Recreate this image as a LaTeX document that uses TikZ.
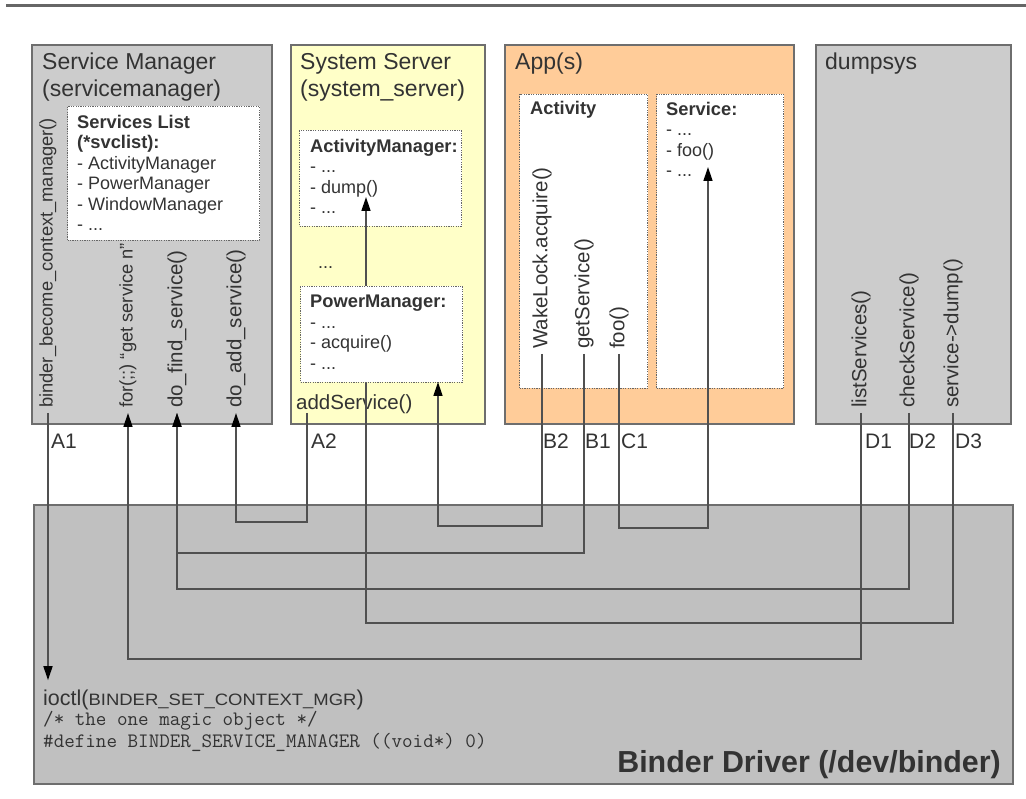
\documentclass[tikz,border=0pt]{standalone}
\usepackage{fontspec}
\setmainfont{Liberation Sans}
\newfontfamily\widesans[FakeStretch=1.12]{Liberation Sans}
\usetikzlibrary{arrows.meta,calc}
\definecolor{txt}{HTML}{333333}
\definecolor{bord}{HTML}{6E6E6E}
\definecolor{smfill}{HTML}{CCCCCC}
\definecolor{ssfill}{HTML}{FFFFC8}
\definecolor{appfill}{HTML}{FFCC99}
\definecolor{bdfill}{HTML}{C0C0C0}
\definecolor{dotc}{HTML}{666666}
\definecolor{linec}{HTML}{505050}
\definecolor{topbar}{HTML}{666666}
\newcommand\boldln[1]{{\fontsize{18.3}{20.5}\selectfont\bfseries #1}}
\begin{document}
\begin{tikzpicture}[x=1pt,y=-1pt,
  every node/.style={text=txt, inner sep=0pt},
  outerbox/.style={draw=bord, line width=1.6pt, anchor=north west},
  dotbox/.style={draw=dotc, line width=1pt, dash pattern=on 1.2pt off 1.2pt, fill=white, anchor=north west},
  conn/.style={draw=linec, line width=1.4pt},
  arr/.style={-{Triangle[length=14pt,width=9pt,color=black]}},
  vlab/.style={rotate=90, anchor=west, inner xsep=5pt, inner ysep=0pt},
  vsmall/.style={vlab, font=\fontsize{18.3}{22}\selectfont},
  vbig/.style={vlab, font=\fontsize{20.5}{24}\selectfont},
  title/.style={font=\fontsize{23}{27}\selectfont, align=left},
  listtxt/.style={anchor=north west, align=left, font=\fontsize{18}{20.5}\selectfont},
  tag/.style={anchor=base west, font=\fontsize{21}{25}\selectfont},
  codetxt/.style={anchor=base west, font=\ttfamily\fontsize{20.5}{24}\selectfont},
]
\useasboundingbox (0,0) rectangle (1026,799);
\draw[line width=3.5pt, draw=topbar] (6,5.5) -- (1026,5.5);

% outer boxes
\node[outerbox, fill=bdfill, minimum width=979pt, minimum height=279pt] (BD) at (33,504) {};
\node[outerbox, fill=smfill, minimum width=240pt, minimum height=379pt] (SM) at (31,44) {};
\node[outerbox, fill=ssfill, minimum width=194pt, minimum height=379pt] (SS) at (290,44) {};
\node[outerbox, fill=appfill, minimum width=289pt, minimum height=379pt] (APP) at (504,44) {};
\node[outerbox, fill=smfill, minimum width=195pt, minimum height=379pt] (DS) at (815,44) {};

% inner boxes
\node[dotbox, minimum width=192pt, minimum height=134pt] (SL) at (67,106) {};
\node[dotbox, minimum width=162pt, minimum height=96pt] (AM) at (299,130) {};
\node[dotbox, minimum width=128pt, minimum height=294pt] (ACT) at (519,94) {};
\node[dotbox, minimum width=127pt, minimum height=294pt] (SVC) at (656,94) {};

% titles
\node[title, anchor=north west] (SMt) at (42,53) {Service Manager\\(servicemanager)};
\node[title, anchor=north west] (SSt) at (300,53) {System Server\\(system\_server)};
\node[title, anchor=base west] (APPt) at (515,70) {App(s)};
\node[title, anchor=base west] (DSt) at (825,70) {dumpsys};

% lists
\node[listtxt] (SLt) at (77,115) {\boldln{Services List}\\\boldln{(*svclist):}\\- ActivityManager\\- PowerManager\\- WindowManager\\- ...};
\node[listtxt] (AMt) at (310,139) {\boldln{ActivityManager:}\\- ...\\- dump()\\- ...};
\node[anchor=base west, font=\fontsize{18.3}{20.5}\selectfont\bfseries] (ACTt) at (530,115) {Activity};
\node[listtxt] (SVCt) at (666,102) {\boldln{Service:}\\- ...\\- foo()\\- ...};
\node[anchor=base west, font=\fontsize{18}{22}\selectfont] (dots) at (318,269) {...};
\node[anchor=base west, font=\fontsize{20.5}{24}\selectfont] (addsvc) at (296,410) {addService()};

% vertical labels
\node[vsmall] (lbA1) at (48,413) {binder\_become\_context\_manager()};
\node[vsmall] (lbFor) at (128,413) {for(;;) “get service n”};
\node[vbig] (lbFind) at (177,413) {do\_find\_service()};
\node[vbig] (lbAdd) at (236,413) {do\_add\_service()};
\node[vbig] (lbB2) at (542,354) {WakeLock.acquire()};
\node[vbig] (lbB1) at (584,354) {getService()};
\node[vbig] (lbC1) at (619,354) {foo()};
\node[vbig] (lbD1) at (861,413) {listServices()};
\node[vbig] (lbD2) at (909,413) {checkService()};
\node[vbig] (lbD3) at (953,413) {service->dump()};

% tags
\node[tag] (tA1) at (51,449) {A1};
\node[tag] (tA2) at (311,449) {A2};
\node[tag] (tB2) at (543,449) {B2};
\node[tag] (tB1) at (585,449) {B1};
\node[tag] (tC1) at (621,449) {C1};
\node[tag] (tD1) at (865,449) {D1};
\node[tag] (tD2) at (909,449) {D2};
\node[tag] (tD3) at (955,449) {D3};

% binder driver text
\node[anchor=base west] (ioctl) at (43,705) {{\fontsize{21.5}{25}\selectfont ioctl(}{\widesans\fontsize{16.5}{20}\selectfont BINDER\_SET\_CONTEXT\_MGR}{\fontsize{21.5}{25}\selectfont )}};
\node[codetxt] (cmt) at (43,725) {/* the one magic object */};
\node[codetxt] (defn) at (43,747) {\#define BINDER\_SERVICE\_MANAGER ((void*) 0)};
\node[anchor=base east, font=\fontsize{30.4}{36}\selectfont\bfseries] (BDt) at (1001,772) {Binder Driver (/dev/binder)};

% routing levels and end points
\coordinate (lvA2) at (0,522);
\coordinate (lvB2) at (0,526);
\coordinate (lvC1) at (0,528);
\coordinate (lvB1) at (0,553);
\coordinate (lvD2) at (0,589);
\coordinate (lvD3) at (0,623);
\coordinate (lvD1) at (0,659);
\coordinate (A2s) at ([xshift=11pt,yshift=-3pt]addsvc.base west);
\coordinate (acqIn) at (438,382);
\coordinate (dumpIn) at (366,197);
\coordinate (fooIn) at (708,167);
\coordinate (a1end) at ([yshift=9pt]ioctl.north);

% connectors
\draw[conn,arr] (lbD3.west) -- (lbD3.west |- lvD3) -| (dumpIn);
\node[dotbox, minimum width=162pt, minimum height=96pt] (PM) at (300,286) {};
\node[listtxt] (PMt) at (310,295) {\boldln{PowerManager:}\\- ...\\- acquire()\\- ...};
\draw[conn,arr] (lbA1.west) -- (lbA1.west |- a1end);
\draw[conn,arr] (lbD1.west) -- (lbD1.west |- lvD1) -| (lbFor.west);
\draw[conn,arr] (lbB1.west) -- (lbB1.west |- lvB1) -| (lbFind.west);
\draw[conn,arr] (lbD2.west) -- (lbD2.west |- lvD2) -| (lbFind.west);
\draw[conn,arr] (A2s) -- (A2s |- lvA2) -| (lbAdd.west);
\draw[conn,arr] (lbB2.west) -- (lbB2.west |- lvB2) -| (acqIn);
\draw[conn,arr] (lbC1.west) -- (lbC1.west |- lvC1) -| (fooIn);
\end{tikzpicture}
\end{document}
